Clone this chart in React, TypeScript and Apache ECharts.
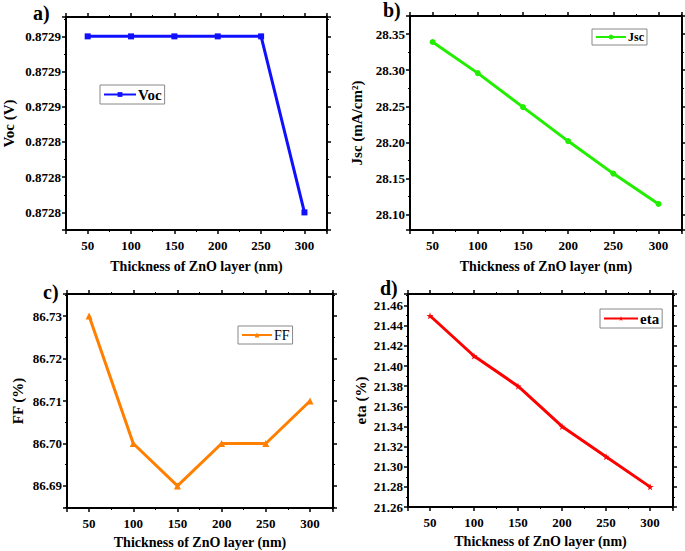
import React, { useEffect, useRef } from "react";
import * as echarts from "echarts";

const thickness = [50, 100, 150, 200, 250, 300];
const vocValues = [0.8729, 0.8729, 0.8729, 0.8729, 0.8729, 0.8728];
const jscValues = [28.339, 28.296, 28.249, 28.202, 28.157, 28.115];
const ffValues = [86.73, 86.7, 86.69, 86.7, 86.7, 86.71];
const etaValues = [21.45, 21.41, 21.38, 21.34, 21.31, 21.28];

const seriesNames = ["Voc", "Jsc", "FF", "eta"];
const yNames = ["Voc (V)", "Jsc (mA/cm²)", "FF (%)", "eta (%)"];
const panelLabels = ["a)", "b)", "c)", "d)"];
const xName = "Thickness of ZnO layer (nm)";

const FONT = "Liberation Serif";

export default function App() {
  const ref = useRef<HTMLDivElement>(null);
  useEffect(() => {
    if (!ref.current) return;
    const chart = echarts.init(ref.current, null, { renderer: "svg" });

    const grids = [
      { left: 65, top: 17, width: 262, height: 213 },
      { left: 410, top: 16, width: 272, height: 214 },
      { left: 67, top: 294, width: 266, height: 214 },
      { left: 408, top: 294, width: 265, height: 213 },
    ];
    const yCfg = [
      { min: 0.87279, max: 0.872911, iv: 0.00002, dec: 4, gap: 50, useInterval: false },
      { min: 28.079, max: 28.375, iv: 0.05, dec: 2, gap: 46, useInterval: false },
      { min: 86.6848, max: 86.7352, iv: 0.01, dec: 2, gap: 42, useInterval: false },
      { min: 21.26, max: 21.4716, iv: 0.02, dec: 2, gap: 40, useInterval: true },
    ];
    const xGaps = [29, 29, 27, 27];
    const colors = ["#1010ff", "#22ee00", "#ff8000", "#ff0000"];
    const symbols = ["rect", "circle", "triangle", "path://M50,0 L61,35 L98,35 L68,57 L79,91 L50,70 L21,91 L32,57 L2,35 L39,35 Z"];
    const symbolSizes = [6, 6, 7, 7];
    const dataSets = [vocValues, jscValues, ffValues, etaValues];

    const lineStyle = { color: "#000", width: 2 };
    const tick = { show: true, inside: false, length: 4, lineStyle: { color: "#000", width: 1.5 } };
    const minor = { show: true, splitNumber: 2, length: 2, lineStyle: { color: "#000", width: 1 } };
    const labelBase = {
      fontFamily: FONT,
      fontWeight: "bold" as const,
      fontSize: 13,
      color: "#000",
      showMinLabel: false,
      showMaxLabel: false,
    };

    const xAxis: any[] = [];
    const yAxis: any[] = [];
    const series: any[] = [];
    const legend: any[] = [];

    grids.forEach((g, i) => {
      const xBase = {
        type: "value",
        gridIndex: i,
        min: 25,
        max: 326,
        minInterval: 50,
        maxInterval: 50,
        axisLine: { show: true, onZero: false, lineStyle },
        axisTick: tick,
        minorTick: minor,
        splitLine: { show: false },
      };
      xAxis.push({
        ...xBase,
        position: "bottom",
        axisLabel: { ...labelBase, margin: 9, formatter: (v: number) => String(Math.round(v)) },
        name: xName,
        nameLocation: "middle",
        nameGap: xGaps[i],
        nameTextStyle: { fontFamily: FONT, fontWeight: "bold", fontSize: 14, color: "#000" },
      });
      xAxis.push({ ...xBase, position: "top", axisLabel: { show: false } });

      const c = yCfg[i];
      const yBase: any = {
        type: "value",
        gridIndex: i,
        min: c.min,
        max: c.max,
        axisLine: { show: true, onZero: false, lineStyle },
        axisTick: tick,
        minorTick: minor,
        splitLine: { show: false },
      };
      if (c.useInterval) yBase.interval = c.iv;
      else {
        yBase.minInterval = c.iv;
        yBase.maxInterval = c.iv;
      }
      yAxis.push({
        ...yBase,
        position: "left",
        axisLabel: {
          ...labelBase,
          showMinLabel: c.useInterval ? true : false,
          margin: 5,
          formatter: (v: number) => v.toFixed(c.dec),
        },
        name: yNames[i],
        nameLocation: "middle",
        nameGap: c.gap,
        nameRotate: 90,
        nameTextStyle: { fontFamily: FONT, fontWeight: "bold", fontSize: 15, color: "#000" },
      });
      yAxis.push({ ...yBase, position: "right", axisLabel: { show: false } });

      series.push({
        type: "line",
        name: seriesNames[i],
        xAxisIndex: 2 * i,
        yAxisIndex: 2 * i,
        data: thickness.map((t, k) => [t, dataSets[i][k]]),
        color: colors[i],
        lineStyle: { width: 3, color: colors[i] },
        symbol: symbols[i],
        symbolSize: symbolSizes[i],
        itemStyle: { color: colors[i] },
        showSymbol: true,
        z: 3,
      });
    });

    const legendPos = [
      { left: 100, top: 85, fontSize: 15, bold: true, itemWidth: 32 },
      { left: 592, top: 29, fontSize: 12, bold: true, itemWidth: 30 },
      { left: 238, top: 326, fontSize: 14, bold: false, itemWidth: 30 },
      { left: 600, top: 309, fontSize: 15, bold: true, itemWidth: 34 },
    ];
    legendPos.forEach((p, i) => {
      legend.push({
        data: [seriesNames[i]],
        left: p.left,
        top: p.top,
        orient: "horizontal",
        borderColor: "#888",
        borderWidth: 1,
        borderRadius: 0,
        padding: [2, 3, 2, 3],
        itemWidth: p.itemWidth,
        itemHeight: 6,
        itemGap: 2,
        selectedMode: false,
        textStyle: {
          fontFamily: FONT,
          fontWeight: p.bold ? "bold" : "normal",
          fontSize: p.fontSize,
          color: "#000",
          padding: [0, 0, 0, -3],
        },
      });
    });

    const labelPos = [
      { x: 33, y: 3 },
      { x: 383, y: 0 },
      { x: 43, y: 282 },
      { x: 380, y: 278 },
    ];

    chart.setOption({
      animation: false,
      backgroundColor: "#fff",
      grid: grids,
      xAxis,
      yAxis,
      series,
      legend,
      graphic: labelPos.map((p, i) => ({
        type: "text",
        left: p.x,
        top: p.y,
        style: {
          text: panelLabels[i],
          fontFamily: FONT,
          fontWeight: "bold",
          fontSize: 20,
          fill: "#000",
        },
      })),
    });
    return () => chart.dispose();
  }, []);

  return (
    <div
      ref={ref}
      style={{ position: "fixed", left: 0, top: 0, width: 685, height: 551, background: "#fff" }}
    />
  );
}
